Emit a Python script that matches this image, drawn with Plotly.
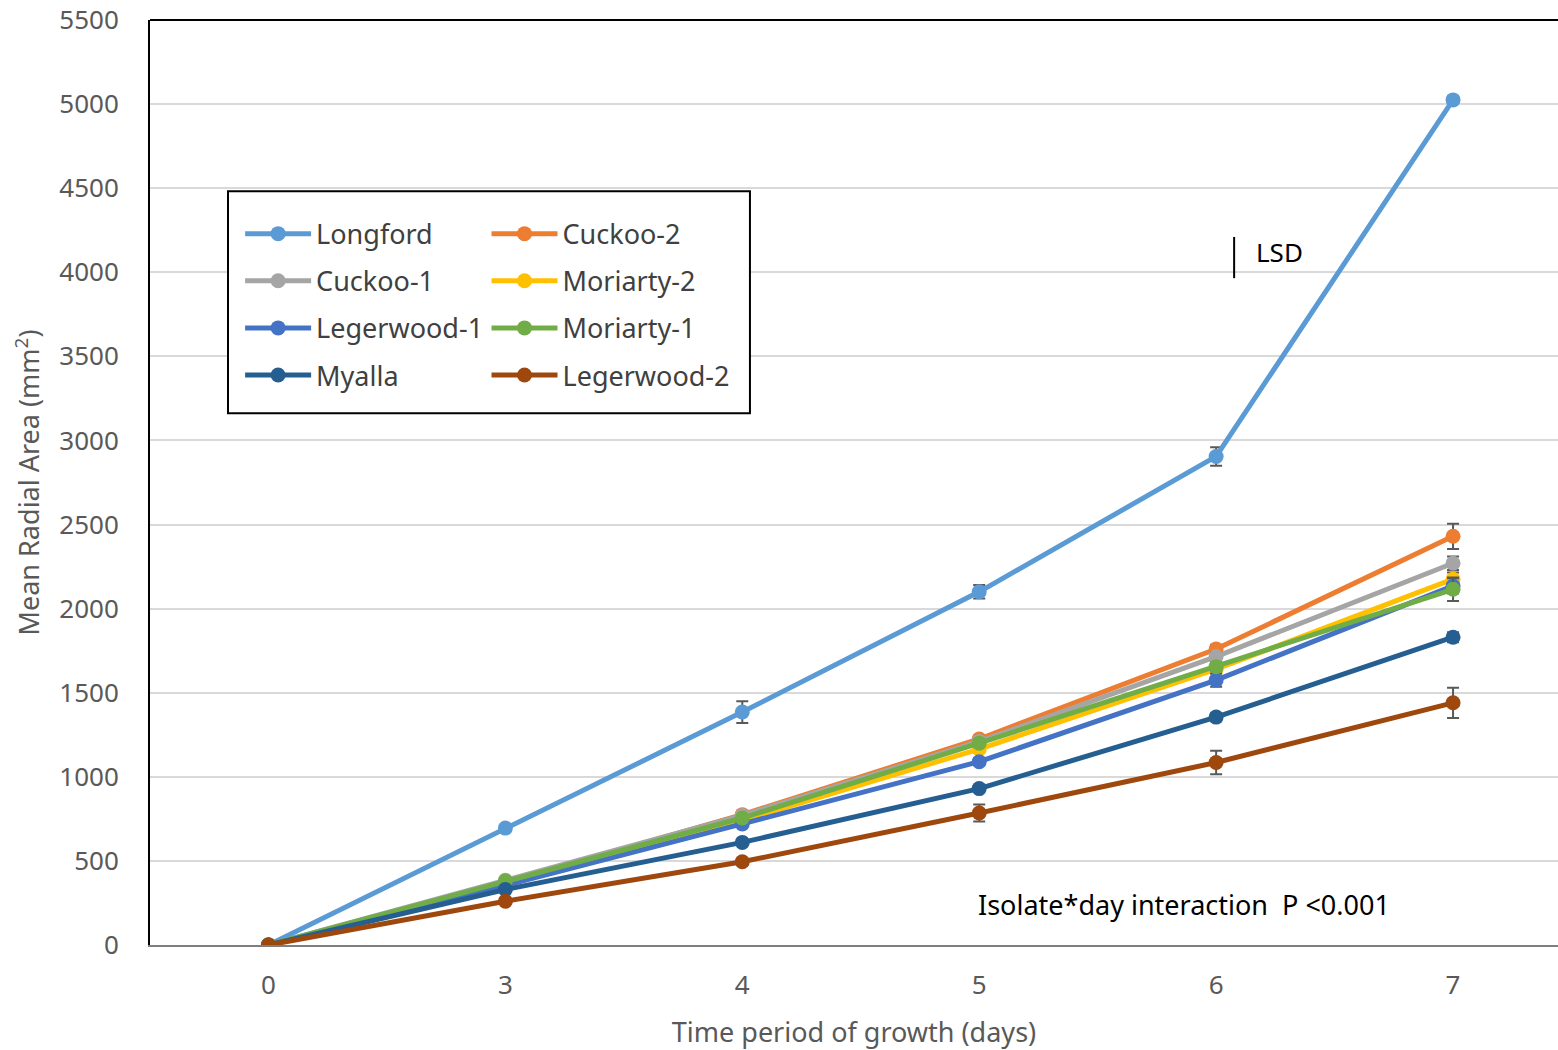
import plotly.graph_objects as go

days = ["0", "3", "4", "5", "6", "7"]

names = ["Longford", "Cuckoo-2", "Cuckoo-1", "Moriarty-2",
         "Legerwood-1", "Moriarty-1", "Myalla", "Legerwood-2"]
colors = ["#5B9BD5", "#ED7D31", "#A5A5A5", "#FFC000",
          "#4472C4", "#70AD47", "#255E91", "#9E480E"]

longford = [0, 695, 1385, 2100, 2905, 5025]
cuckoo2 = [0, 370, 775, 1225, 1760, 2430]
cuckoo1 = [0, 385, 770, 1210, 1715, 2270]
moriarty2 = [0, 365, 740, 1165, 1640, 2175]
legerwood1 = [0, 355, 720, 1090, 1575, 2135]
moriarty1 = [0, 380, 755, 1200, 1655, 2115]
myalla = [0, 330, 610, 930, 1355, 1830]
legerwood2 = [0, 260, 495, 785, 1085, 1440]

err_longford = [0, 20, 65, 40, 55, 20]
err_cuckoo2 = [0, 10, 15, 20, 25, 75]
err_cuckoo1 = [0, 10, 15, 20, 25, 40]
err_moriarty2 = [0, 10, 15, 20, 25, 40]
err_legerwood1 = [0, 10, 15, 20, 40, 45]
err_moriarty1 = [0, 10, 15, 20, 25, 70]
err_myalla = [0, 10, 15, 20, 25, 30]
err_legerwood2 = [0, 15, 20, 50, 70, 90]

series = [longford, cuckoo2, cuckoo1, moriarty2, legerwood1, moriarty1, myalla, legerwood2]
errors = [err_longford, err_cuckoo2, err_cuckoo1, err_moriarty2,
          err_legerwood1, err_moriarty1, err_myalla, err_legerwood2]

FONT = "Noto Sans"
fig = go.Figure()
for i, (n, c, ys, es) in enumerate(zip(names, colors, series, errors)):
    fig.add_trace(go.Scatter(
        x=days, y=ys, name=n, mode="lines+markers",
        line=dict(color=c, width=5),
        marker=dict(color=c, size=15),
        error_y=dict(type="data", array=es, visible=True, color="#595959",
                     thickness=2, width=6),
        legend="legend" if i % 2 == 0 else "legend2",
        legendgroup=n,
    ))

legend_common = dict(
    bgcolor="rgba(0,0,0,0)", borderwidth=0,
    font=dict(family=FONT, size=27, color="#404040"),
    tracegroupgap=9, xanchor="left", yanchor="top", orientation="v",
    itemwidth=66,
)

fig.update_layout(
    width=1558, height=1050,
    margin=dict(l=150, r=0, t=20, b=105),
    paper_bgcolor="white", plot_bgcolor="white",
    font=dict(family=FONT, color="#595959"),
    showlegend=True,
    legend=dict(x=0.064, y=0.795, **legend_common),
    legend2=dict(x=0.239, y=0.795, **legend_common),
    xaxis=dict(
        type="category", range=[-0.5, 5.443],
        showgrid=False, showline=True, linecolor="#7F7F7F", linewidth=2,
        ticks="", ticklabelstandoff=16, tickfont=dict(size=26, color="#595959"),
        title=dict(text="Time period of growth (days)",
                   font=dict(size=27, color="#595959"), standoff=22),
        zeroline=False,
    ),
    yaxis=dict(
        range=[0, 5500], tickvals=list(range(0, 5501, 500)),
        showgrid=True, gridcolor="#D9D9D9", gridwidth=2,
        showline=True, linecolor="black", linewidth=2,
        ticks="", ticklabelstandoff=24,
        tickfont=dict(size=26, color="#595959"),
        title=dict(text="Mean Radial Area (mm<sup>2</sup>)",
                   font=dict(size=27, color="#595959"), standoff=12),
        zeroline=False,
    ),
)

# top border of plot area
fig.add_shape(type="line", xref="paper", yref="paper", x0=0, x1=1, y0=1, y1=1,
              line=dict(color="black", width=2))
# legend box
fig.add_shape(type="rect", xref="paper", yref="paper",
              x0=0.0554, x1=0.4261, y0=0.575, y1=0.815,
              fillcolor="white", line=dict(color="black", width=2), layer="above")
# LSD bar
fig.add_shape(type="line", xref="x", yref="y", x0=4.076, x1=4.076, y0=3965, y1=4210,
              line=dict(color="black", width=2))
fig.add_annotation(x=4.16, y=4120, xref="x", yref="y", text="LSD", showarrow=False,
                   xanchor="left", font=dict(family=FONT, size=26, color="black"))
fig.add_annotation(x=2.985, y=240, xref="x", yref="y",
                   text="Isolate*day interaction  P <0.001", showarrow=False,
                   xanchor="left", font=dict(family=FONT, size=27, color="black"))

fig.write_html("out.html")
